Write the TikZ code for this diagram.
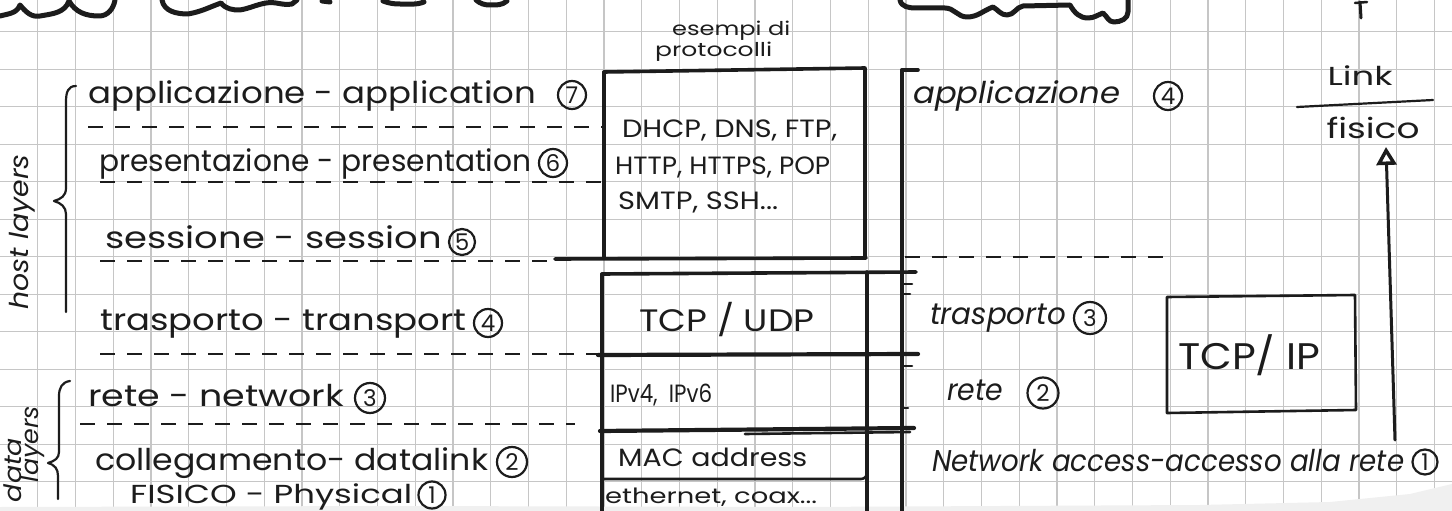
\documentclass[tikz,border=0pt]{standalone}
\usepackage{fontspec}
\setmainfont{Poppins}
\usetikzlibrary{arrows.meta}
\definecolor{ink}{HTML}{1C1C1C}
\definecolor{gridc}{HTML}{C6C6C6}
\newcommand{\hw}[2]{\resizebox{#1pt}{\height}{#2}}
\begin{document}
\begin{tikzpicture}[x=1pt,y=-1pt,
  gridline/.style={draw=gridc, line width=1.3pt},
  penline/.style={draw=ink, line width=2.2pt, line cap=round, line join=round},
  boxedge/.style={draw=ink, line width=3.6pt, line cap=round, line join=round},
  thinedge/.style={draw=ink, line width=2.6pt, line cap=round, line join=round},
  dashrule/.style={draw=ink, line width=2pt, dash pattern=on 15pt off 12pt},
  blobline/.style={draw=ink, line width=5pt, line cap=round, line join=round},
  handtext/.style={text=ink, inner sep=0pt, anchor=base west, font=\fontsize{30}{34}\selectfont},
  boxtext/.style={text=ink, inner sep=0pt, anchor=base west, font=\fontsize{25}{30}\selectfont},
  layernum/.style={draw=ink, circle, line width=2.2pt, minimum size=28pt, inner sep=0pt,
    text=ink, font=\fontsize{23}{24}\selectfont}]
\useasboundingbox (0,0) rectangle (1452,511);
\fill[white] (0,0) rectangle (1452,511);

% squared paper
\foreach \i in {1,...,38} \draw[gridline] ({\i*37.75},0) -- ({\i*37.75},511);
\foreach \j in {0,...,12} \draw[gridline] (0,{31.7+\j*37.5}) -- (1452,{31.7+\j*37.5});
% lower edge of the sheet
\fill[black!6] (0,507) -- (400,506) -- (800,507) -- (1200,505) -- (1330,502) -- (1410,494) -- (1452,484) -- (1452,511) -- (0,511) -- cycle;

% lettering of the heading above, cut by the sheet edge
\draw[blobline] (0,16) to[out=15,in=250] (20,5) to[out=-50,in=190] (40,16) to[out=10,in=250] (69,1)
  to[out=-60,in=180] (99,16) to[out=0,in=-100] (115,0);
\draw[blobline] (162,0) to[out=-80,in=180] (188,14) to[out=10,in=200] (221,3) to[out=-50,in=180] (240,10)
  to[out=10,in=190] (266,3) to[out=10,in=190] (292,4) -- (297,0);
\draw[blobline] (322,1) -- (330,2);
\draw[blobline] (383,1) to[out=-20,in=180] (400,4) to[out=0,in=200] (424,2);
\draw[blobline] (476,0) to[out=-40,in=180] (490,5) to[out=0,in=220] (507,1);
\draw[blobline] (900,0) to[out=-80,in=180] (916,8) -- (945,8) to[out=0,in=180] (967,17) to[out=0,in=200] (993,7)
  to[out=-30,in=180] (1007,15) to[out=0,in=190] (1023,6) -- (1070,5) to[out=-60,in=180] (1088,18)
  to[out=0,in=200] (1103,13) to[out=-40,in=180] (1114,22) to[out=0,in=-90] (1128,12) -- (1128,0);
\draw[penline, line width=3pt] (1360,2) -- (1361,18);
\draw[penline, line width=2.5pt] (1355,3) -- (1367,2);

% braces of the two layer groups
\draw[penline] (76,86) .. controls (68,86) and (66,92) .. (66,102) -- (66,188)
  .. controls (66,196) and (61,199) .. (54,201) .. controls (61,203) and (66,207) .. (66,214) -- (66,312);
\draw[penline] (70,381) .. controls (62,382) and (59,388) .. (59,396) -- (59,452)
  .. controls (59,458) and (55,461) .. (48,463) .. controls (55,465) and (58,469) .. (58,476) -- (58,499);
\node[text=ink, inner sep=0pt, rotate=90, font=\fontsize{26}{30}\selectfont\itshape] (hostlab) at (22,232) {\hw{155}{host layers}};
\node[text=ink, inner sep=0pt, rotate=90, font=\fontsize{24}{28}\selectfont\itshape] (datalab) at (13,470) {\hw{64}{data}};
\node[text=ink, inner sep=0pt, rotate=90, font=\fontsize{24}{28}\selectfont\itshape] (layerslab) at (33,444) {\hw{76}{layers}};

% OSI layers
\node[handtext] (osi7) at (88,103) {\hw{448}{applicazione - application}};
\node[layernum] (n7) at (572,95) {7};
\node[handtext] (osi6) at (99,171) {\hw{432}{presentazione - presentation}};
\node[layernum] (n6) at (553,163) {6};
\node[handtext] (osi5) at (105,248) {\hw{337}{sessione - session}};
\node[layernum, minimum size=26pt] (n5) at (462,242) {5};
\node[handtext] (osi4) at (100,330) {\hw{366}{trasporto - transport}};
\node[layernum] (n4) at (488,323) {4};
\node[handtext] (osi3) at (88,406) {\hw{256}{rete - network}};
\node[layernum, minimum size=30pt] (n3) at (370,398) {3};
\node[handtext] (osi2) at (95,470) {\hw{393}{collegamento- datalink}};
\node[layernum, minimum size=30pt] (n2) at (512,462) {2};
\node[handtext, font=\fontsize{26}{30}\selectfont] (osi1) at (130,503) {\hw{282}{FISICO - Physical}};
\node[layernum, minimum size=27pt] (n1) at (432,495) {1};

% separators between the layers
\draw[dashrule] (88,127) -- (602,127);
\draw[dashrule] (100,182) -- (602,182);
\draw[dashrule] (100,261) -- (556,261);
\draw[dashrule] (100,354) -- (598,354);
\draw[dashrule] (80,424) -- (575,424);
\draw[dashrule] (905,257) -- (1167,257);

% protocol column
\node[text=ink, inner sep=0pt, anchor=base west, font=\fontsize{19}{22}\selectfont] (ex1) at (672,36) {\hw{118}{esempi di}};
\node[text=ink, inner sep=0pt, anchor=base west, font=\fontsize{19}{22}\selectfont] (ex2) at (655,57) {\hw{117}{protocolli}};
\draw[boxedge] (604,72) -- (865,68) -- (865,258);
\draw[boxedge] (604,72) -- (604,258);
\draw[boxedge] (555,259) -- (866,258);
\node[boxtext] (pa1) at (622,137) {\hw{215}{DHCP, DNS, FTP,}};
\node[boxtext] (pa2) at (615,174) {\hw{215}{HTTP, HTTPS, POP}};
\node[boxtext] (pa3) at (618,209) {\hw{160}{SMTP, SSH...}};

\draw[boxedge] (602,274) -- (602,511);
\draw[boxedge] (867,272) -- (867,511);
\draw[boxedge] (602,274) -- (916,272);
\draw[boxedge, line width=4.2pt] (598,355) -- (918,354);
\draw[boxedge, line width=4.2pt] (600,431) -- (914,428);
\draw[thinedge] (745,434) -- (910,432);
\draw[thinedge, rounded corners=6pt] (602,479) -- (867,479) -- (867,470);
\node[text=ink, inner sep=0pt, font=\fontsize{31}{34}\selectfont] (tcpudp) at (727,320) {\hw{175}{TCP / UDP}};
\node[boxtext] (ip) at (610,402) {\hw{102}{IPv4,\ \ IPv6}};
\node[boxtext] (mac) at (618,466) {\hw{189}{MAC address}};
\node[text=ink, inner sep=0pt, anchor=base west, font=\fontsize{21}{24}\selectfont] (phy) at (605,503) {\hw{212}{ethernet, coax...}};

% TCP/IP column
\draw[boxedge] (902,70) -- (902,511);
\draw[boxedge] (902,70) -- (918,70);
\draw[thinedge] (902,284) -- (912,284);
\draw[thinedge] (902,294) -- (910,294);
\draw[thinedge] (902,366) -- (912,366);
\draw[thinedge] (902,408) -- (908,408);
\node[handtext, font=\fontsize{30}{34}\selectfont\itshape] (tcp4) at (913,103) {\hw{207}{applicazione}};
\node[layernum, minimum size=28pt] (m4) at (1168,96) {4};
\node[handtext, font=\fontsize{30}{34}\selectfont\itshape] (tcp3) at (930,324) {\hw{136}{trasporto}};
\node[layernum, minimum size=32pt] (m3) at (1090,318) {3};
\node[handtext, font=\fontsize{30}{34}\selectfont\itshape] (tcp2) at (947,400) {\hw{56}{rete}};
\node[layernum, minimum size=31pt] (m2) at (1043,393) {2};
\node[handtext, font=\fontsize{30}{34}\selectfont\itshape] (tcp1) at (932,471) {\hw{472}{Network access-accesso alla rete}};
\node[layernum, minimum size=25pt] (m1) at (1425,462) {1};

\draw[thinedge] (1167,297) -- (1355,295) -- (1356,410) -- (1167,413) -- cycle;
\node[text=ink, inner sep=0pt, anchor=west, font=\fontsize{37}{40}\selectfont] (tcpip) at (1178,355) {\hw{142}{TCP/ IP}};

% link / physical
\node[text=ink, inner sep=0pt, font=\fontsize{26}{30}\selectfont] (link) at (1360,76) {\hw{65}{Link}};
\node[text=ink, inner sep=0pt, font=\fontsize{28}{32}\selectfont] (fis) at (1373,128) {\hw{93}{fisico}};
\draw[penline] (1297,107) -- (1433,100);
\coordinate (arrowfoot) at (1395,440);
\coordinate (arrowtip) at (1386,147);
\draw[penline, line width=3pt, -{Triangle[open, width=20pt, length=18pt, line width=3.5pt]}] (arrowfoot) -- (arrowtip);
\end{tikzpicture}
\end{document}
